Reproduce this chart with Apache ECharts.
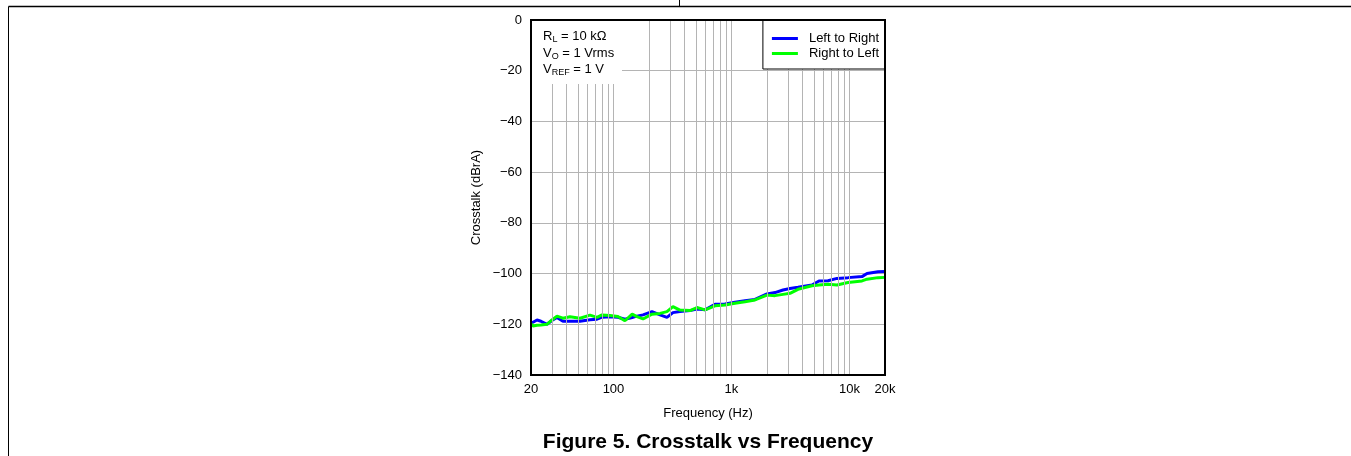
<!DOCTYPE html>
<html>
<head>
<meta charset="utf-8">
<script src="https://cdn.jsdelivr.net/npm/echarts@6/dist/echarts.min.js"></script>
<style>
html,body{margin:0;padding:0;background:#fff;}
#chart{width:1351px;height:456px;}
</style>
</head>
<body>
<div id="chart"></div>
<script>
// Frequencies (Hz) at which the curves were read
const freqs = [20, 20.8, 22.5, 24.3, 27.3, 30.1, 33.2, 37.3, 42.8, 52, 63.2, 72.5, 80, 93.5, 109, 125, 144, 158, 178, 212, 248, 284, 319, 366, 445, 510, 597, 725, 881, 1071, 1302, 1582, 2000, 2338, 2733, 3133, 3662, 4812, 5517, 6577, 7838, 9718, 12768, 14082, 17452, 20000];
// Crosstalk (dBrA)
const leftToRight = [-119.3, -119.2, -118.3, -118.8, -120, -118.5, -117.3, -118.8, -118.8, -118.8, -118.2, -118, -117.2, -117, -117.2, -118, -117.3, -116.8, -116.3, -115, -116.3, -117.3, -115.4, -115, -114.6, -114, -114.3, -112.1, -112, -111.3, -110.7, -110.2, -108, -107.5, -106.5, -105.9, -105.4, -104.5, -102.9, -102.8, -101.9, -101.6, -101.2, -100, -99.3, -99.2];
const rightToLeft = [-119.8, -120.7, -120.4, -120.3, -120, -118.3, -116.8, -117.6, -117, -117.6, -116.4, -117.3, -116.3, -116.5, -116.9, -118.6, -116, -117, -117.9, -116, -115.7, -115, -113, -114.4, -114.6, -113.4, -114.3, -112.7, -112.4, -111.7, -111.1, -110.4, -108.5, -108.7, -108.2, -107.8, -106.2, -104.8, -104.5, -104.2, -104.5, -103.5, -102.9, -102.2, -101.6, -101.5];
// Vertical grid lines (Hz)
const gridFreqs = [30, 40, 50, 60, 70, 80, 90, 100, 200, 300, 400, 500, 600, 700, 800, 900, 1000, 2000, 3000, 4000, 5000, 6000, 7000, 8000, 9000, 10000];
const seriesNames = ['Left to Right', 'Right to Left'];
const xMin = 20, xMax = 20000, yMin = -140, yMax = 0, yStep = 20;

const G = {left: 531, top: 20, width: 354, height: 355};
const FONT = 'Liberation Sans, Arial, sans-serif';

function fmtFreq(v) {
  const r = Math.round(v);
  return r >= 1000 ? (r / 1000) + 'k' : String(r);
}
function fmtDb(v) {
  return v < 0 ? '\u2212' + (-v) : String(v);
}

const richSub = {
  n: {fontFamily: FONT, fontSize: 13, lineHeight: 16, fill: '#000'},
  s: {fontFamily: FONT, fontSize: 9, lineHeight: 9, verticalAlign: 'bottom', fill: '#000'}
};

const chart = echarts.init(document.getElementById('chart'), null, {renderer: 'canvas'});
chart.setOption({
  animation: false,
  backgroundColor: '#fff',
  textStyle: {fontFamily: FONT},
  grid: {left: G.left, top: G.top, width: G.width, height: G.height, containLabel: false},
  legend: {
    data: seriesNames,
    orient: 'vertical',
    right: 1351 - (G.left + G.width),
    top: G.top,
    z: 20,
    icon: 'rect',
    itemWidth: 26,
    itemHeight: 3,
    itemGap: 2,
    padding: [12, 6, 9, 9],
    backgroundColor: '#fff',
    borderColor: '#000',
    borderWidth: 1,
    textStyle: {fontFamily: FONT, fontSize: 13, color: '#000', padding: [0, 0, 0, 6]}
  },
  xAxis: {
    type: 'log',
    logBase: 10,
    min: xMin,
    max: xMax,
    name: 'Frequency (Hz)',
    nameLocation: 'middle',
    nameGap: 32,
    nameTextStyle: {fontFamily: FONT, fontSize: 13, color: '#000'},
    axisLine: {show: false},
    axisTick: {show: false},
    splitLine: {show: false},
    minorTick: {show: false},
    axisLabel: {
      color: '#000', fontFamily: FONT, fontSize: 13, margin: 8,
      showMinLabel: true, showMaxLabel: true, hideOverlap: false,
      formatter: fmtFreq
    }
  },
  yAxis: {
    type: 'value',
    min: yMin,
    max: yMax,
    interval: yStep,
    name: 'Crosstalk (dBrA)',
    nameLocation: 'middle',
    nameGap: 48,
    nameTextStyle: {fontFamily: FONT, fontSize: 13, color: '#000'},
    axisLine: {show: false},
    axisTick: {show: false},
    splitLine: {show: true, lineStyle: {color: '#b4b4b4', width: 1}},
    axisLabel: {color: '#000', fontFamily: FONT, fontSize: 13, margin: 9, formatter: fmtDb}
  },
  series: [
    {
      name: 'grid',
      type: 'line',
      data: [],
      silent: true,
      z: 1,
      markLine: {
        silent: true,
        symbol: ['none', 'none'],
        label: {show: false},
        lineStyle: {color: '#b4b4b4', width: 1, type: 'solid'},
        animation: false,
        data: gridFreqs.map(f => ({xAxis: f}))
      }
    },
    {
      name: seriesNames[0],
      type: 'line',
      data: freqs.map((f, i) => [f, leftToRight[i]]),
      showSymbol: false,
      symbol: 'none',
      z: 3,
      lineStyle: {color: '#0000ff', width: 3},
      itemStyle: {color: '#0000ff'}
    },
    {
      name: seriesNames[1],
      type: 'line',
      data: freqs.map((f, i) => [f, rightToLeft[i]]),
      showSymbol: false,
      symbol: 'none',
      z: 4,
      lineStyle: {color: '#00ff00', width: 3},
      itemStyle: {color: '#00ff00'}
    }
  ],
  graphic: [
    // page frame lines
    {type: 'line', z: 50, shape: {x1: 8.5, y1: 6.5, x2: 1351, y2: 6.5}, style: {stroke: '#000', lineWidth: 1.5}},
    {type: 'line', z: 50, shape: {x1: 679.5, y1: 0, x2: 679.5, y2: 6.5}, style: {stroke: '#000', lineWidth: 1}},
    {type: 'line', z: 50, shape: {x1: 8.5, y1: 6.5, x2: 8.5, y2: 456}, style: {stroke: '#000', lineWidth: 1}},
    // annotation background
    {type: 'rect', z: 10, shape: {x: G.left + 1, y: G.top + 1, width: 90, height: 63}, style: {fill: '#fff'}},
    // annotation text
    {type: 'text', z: 21, left: 543, top: 30, style: {text: '{n|R}{s|L}{n| = 10 k\u03A9}', rich: richSub}},
    {type: 'text', z: 21, left: 543, top: 46.5, style: {text: '{n|V}{s|O}{n| = 1 Vrms}', rich: richSub}},
    {type: 'text', z: 21, left: 543, top: 63, style: {text: '{n|V}{s|REF}{n| = 1 V}', rich: richSub}},
    // plot border
    {type: 'rect', z: 40, shape: {x: G.left, y: G.top, width: G.width, height: G.height},
     style: {fill: 'none', stroke: '#000', lineWidth: 2}},
    // figure caption
    {type: 'text', z: 21, x: 708, y: 432, style: {
      text: 'Figure 5. Crosstalk vs Frequency', textAlign: 'center', textVerticalAlign: 'top',
      fontFamily: FONT, fontSize: 21, fontWeight: 'bold', fill: '#000'
    }}
  ]
});
</script>
</body>
</html>
